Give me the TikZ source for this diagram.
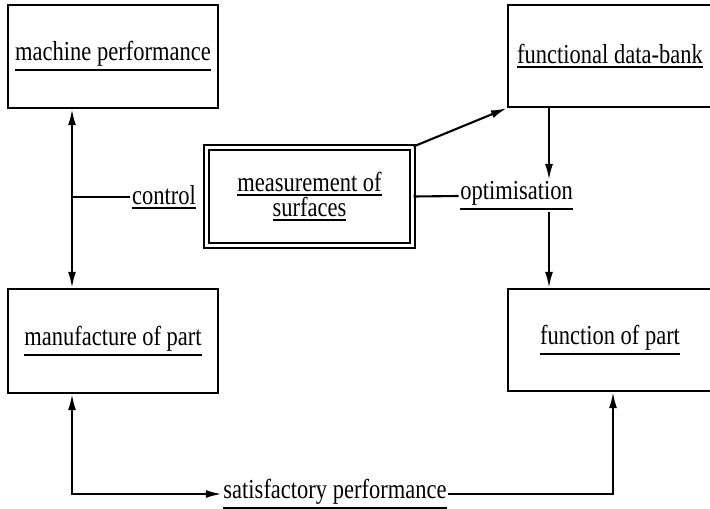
\documentclass[tikz,border=0pt]{standalone}
\usepackage{fontspec}
\setmainfont{Liberation Serif}
\usetikzlibrary{positioning, arrows.meta}

% underlined label text
\newcommand{\ulab}[1]{\leavevmode\setbox0=\hbox{\scalebox{1}[1.22]{#1}}\vtop{\box0\kern2.5pt\hrule height 2.2pt}}

\begin{document}
\begin{tikzpicture}[
        x=1pt, y=-1pt,
        % Define styles for consistency
        block/.style={draw, line width=2.2pt, inner sep=0pt, align=center},
        dblock/.style={draw, double, double distance=3pt, line width=2pt, inner sep=0pt, align=center},
        tag/.style={inner sep=1.5pt, align=center},
        link/.style={line width=2.1pt},
        tip/.style={-{Latex[length=16pt, width=8pt]}},
        twotip/.style={{Latex[length=16pt, width=8pt]}-{Latex[length=16pt, width=8pt]}},
        every node/.style={font=\fontsize{22.5}{25}\selectfont}
    ]
        \useasboundingbox (0,0) rectangle (710,509);

        % --- Boxes ---
        \node[block, minimum width=210, minimum height=103] (machine) at (113,56.5) {\ulab{machine performance}};
        \node[block, minimum width=204, minimum height=102] (databank) at (610,56) {\ulab{functional data-bank}};
        \node[dblock, minimum width=206, minimum height=98] (measure) at (309.5,196.5) {\ulab{measurement of}\\ \ulab{surfaces}};
        \node[block, minimum width=210, minimum height=104] (manufacture) at (113,341) {\ulab{manufacture of part}};
        \node[block, minimum width=204, minimum height=102] (function) at (610,340) {\ulab{function of part}};

        % --- Labels ---
        \node[tag] (control) at (164,197) {\ulab{control}};
        \node[tag] (optim) at (516.5,196) {\ulab{optimisation}};
        \node[tag] (satisf) at (335,494) {\ulab{satisfactory performance}};

        % --- Line positions ---
        \coordinate (leftline) at (72,0);
        \coordinate (rightline) at (549,0);
        \coordinate (bottomline) at (613,0);

        % --- Connectors ---
        % left side
        \draw[link, twotip] (machine.south -| leftline) -- (manufacture.north -| leftline);
        \draw[link] (control.west -| leftline) -- (control.west);

        % centre and right side
        \draw[link, tip] (measure.north east) -- (databank.south west);
        \draw[link] (measure.east) -- (optim.west);
        \draw[link, tip] (databank.south -| rightline) -- (optim.north -| rightline);
        \draw[link, tip] (optim.south -| rightline) -- (function.north -| rightline);

        % bottom loop
        \draw[link, twotip] (manufacture.south -| leftline) |- (satisf.west);
        \draw[link, tip] (satisf.east) -| (function.south -| bottomline);

    \end{tikzpicture}
\end{document}
